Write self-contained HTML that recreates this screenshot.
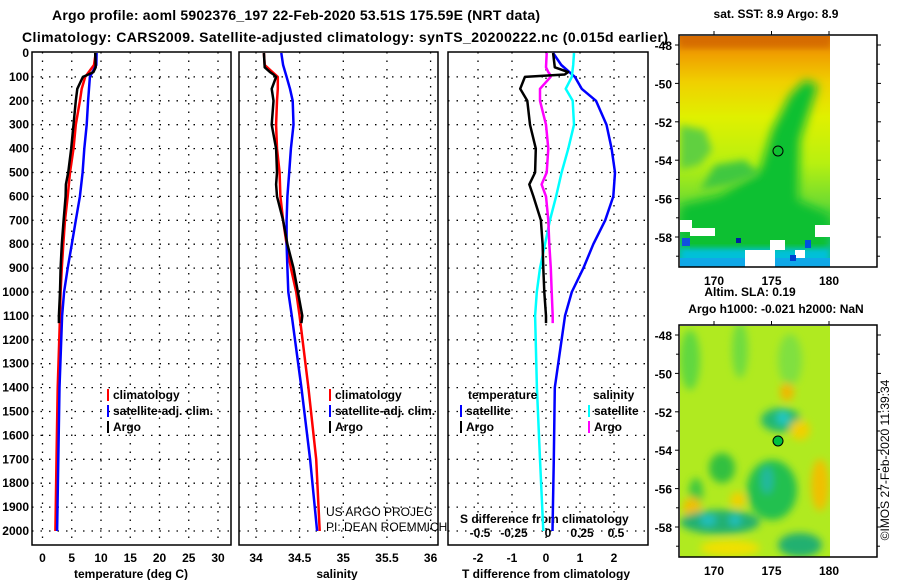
<!DOCTYPE html>
<html><head><meta charset="utf-8"><style>
body{margin:0;background:#fff}
svg{display:block;font-family:"Liberation Sans",sans-serif}
.b{font-weight:bold;font-size:12px}
</style></head><body>
<svg id="fig" width="900" height="580" viewBox="0 0 900 580" xmlns="http://www.w3.org/2000/svg">
<defs>
<filter id="bl" x="-20%" y="-20%" width="140%" height="140%"><feGaussianBlur stdDeviation="5"/></filter>
<filter id="bl4" x="-30%" y="-30%" width="160%" height="160%"><feGaussianBlur stdDeviation="4"/></filter>
<filter id="bl2" x="-20%" y="-20%" width="140%" height="140%"><feGaussianBlur stdDeviation="3"/></filter>
<linearGradient id="sstg" x1="0" y1="0" x2="0" y2="1">
<stop offset="0" stop-color="#d87000"/><stop offset="0.08" stop-color="#f0a000"/><stop offset="0.2" stop-color="#f0d000"/><stop offset="0.35" stop-color="#e0f000"/><stop offset="0.55" stop-color="#b8f010"/><stop offset="0.72" stop-color="#70dc30"/><stop offset="0.84" stop-color="#20c840"/><stop offset="0.9" stop-color="#10c0a0"/><stop offset="1" stop-color="#10b8d8"/></linearGradient>
<clipPath id="c1"><rect x="680" y="36" width="150" height="231"/></clipPath>
<clipPath id="c2"><rect x="680" y="326" width="150" height="231"/></clipPath>
</defs>
<text x="296" y="20" text-anchor="middle" class="b" style="font-size:14px" textLength="488">Argo profile: aoml 5902376_197 22-Feb-2020 53.51S 175.59E (NRT data)</text>
<text x="345" y="42" text-anchor="middle" class="b" style="font-size:14px" textLength="646">Climatology: CARS2009. Satellite-adjusted climatology: synTS_20200222.nc (0.015d earlier)</text>
<g id="plots"></g>
<g>
<text x="776" y="18" text-anchor="middle" class="b">sat. SST: 8.9 Argo: 8.9</text>
<g clip-path="url(#c1)">
<rect x="680" y="36" width="150" height="231" fill="url(#sstg)"/>
<polygon points="772,130 790,95 805,80 818,85 800,140 798,200 830,215 830,267 680,267 680,205 720,195 760,170" fill="#10c030" filter="url(#bl)"/>
<polygon points="680,125 705,130 712,150 700,165 680,170" fill="#60d040" filter="url(#bl4)"/>
<polygon points="715,165 745,160 760,175 730,185 700,190" fill="#40c840" filter="url(#bl4)"/>
<rect x="680" y="36" width="150" height="12" fill="#d06000" opacity="0.6" filter="url(#bl2)"/>
<rect x="680" y="248" width="150" height="19" fill="#00c0d8" filter="url(#bl2)"/>
<rect x="680" y="258" width="150" height="9" fill="#10a8e8"/>
<rect x="680" y="220" width="12" height="12" fill="#fff"/><rect x="690" y="228" width="25" height="8" fill="#fff"/>
<rect x="745" y="250" width="30" height="17" fill="#fff"/><rect x="770" y="240" width="15" height="10" fill="#fff"/>
<rect x="795" y="250" width="10" height="8" fill="#fff"/><rect x="815" y="225" width="15" height="12" fill="#fff"/>
<rect x="682" y="238" width="8" height="8" fill="#1050e0"/><rect x="736" y="238" width="5" height="5" fill="#0020a0"/>
<rect x="790" y="255" width="6" height="6" fill="#0040d0"/><rect x="805" y="240" width="6" height="8" fill="#0050e0"/>
</g>
<circle cx="778" cy="151" r="5" fill="none" stroke="#000" stroke-width="1"/>
</g>
<g>
<text x="750" y="296" text-anchor="middle" class="b">Altim. SLA: 0.19</text>
<text x="776" y="313" text-anchor="middle" class="b">Argo h1000: -0.021 h2000: NaN</text>
<g clip-path="url(#c2)">
<rect x="680" y="326" width="150" height="231" fill="#b0ea20"/>
<g filter="url(#bl4)">
<ellipse cx="690" cy="360" rx="10" ry="30" fill="#60d840"/>
<ellipse cx="740" cy="350" rx="8" ry="28" fill="#70dc40"/>
<ellipse cx="790" cy="360" rx="12" ry="26" fill="#80e040"/>
<ellipse cx="781" cy="420" rx="20" ry="12" fill="#20b870"/>
<ellipse cx="783" cy="418" rx="6" ry="7" fill="#20c8c8"/>
<ellipse cx="787" cy="392" rx="7" ry="9" fill="#f0b800"/>
<ellipse cx="800" cy="430" rx="10" ry="10" fill="#f0d000"/>
<ellipse cx="820" cy="485" rx="9" ry="26" fill="#f0c000"/>
<ellipse cx="772" cy="490" rx="25" ry="30" fill="#20c050"/>
<ellipse cx="767" cy="480" rx="6" ry="14" fill="#20b8a0"/>
<ellipse cx="722" cy="468" rx="13" ry="15" fill="#30c040"/>
<ellipse cx="696" cy="492" rx="7" ry="14" fill="#40c840"/>
<ellipse cx="692" cy="508" rx="9" ry="11" fill="#f0c000"/>
<ellipse cx="738" cy="500" rx="8" ry="8" fill="#f0d000"/>
<ellipse cx="720" cy="522" rx="40" ry="12" fill="#20b070"/>
<ellipse cx="708" cy="520" rx="8" ry="6" fill="#20c0c0"/>
<ellipse cx="735" cy="520" rx="6" ry="6" fill="#20c0c0"/>
<ellipse cx="730" cy="548" rx="30" ry="8" fill="#f0e000"/>
<ellipse cx="800" cy="545" rx="22" ry="12" fill="#20b070"/>
</g>
</g>
<circle cx="778" cy="441" r="5" fill="#00c040" stroke="#000" stroke-width="1"/>
</g>
<text transform="translate(889,460) rotate(-90)" text-anchor="middle" style="font-size:12px">©IMOS 27-Feb-2020 11:39:34</text>
</svg>
<script>
// ---- data ----
const depths = [0,50,100,150,200,300,400,500,600,700,800,900,1000,1100,1400,1700,2000];
const tempClim = [9.1,8.8,7.3,6.7,6.4,5.7,5.3,4.7,4.3,3.85,3.55,3.3,3.1,3.0,2.6,2.4,2.2];
const tempSat  = [9.25,9.2,8.1,7.95,7.8,7.55,7.15,6.85,6.4,5.7,5.0,4.3,3.7,3.35,2.9,2.7,2.5];
const argoDepths = [0,60,80,90,100,150,200,300,400,500,550,600,700,800,900,1000,1100,1130];
const tempArgo = [9.0,9.1,8.7,7.85,6.9,5.95,5.7,5.3,4.9,4.4,4.0,3.95,3.6,3.3,3.1,3.0,2.8,2.8];
const salClim = [34.09,34.1,34.25,34.25,34.24,34.23,34.24,34.27,34.28,34.31,34.35,34.40,34.46,34.50,34.60,34.69,34.73];
const salSat  = [34.29,34.31,34.35,34.39,34.42,34.43,34.40,34.38,34.36,34.35,34.35,34.36,34.37,34.41,34.52,34.62,34.70];
const salArgo = [34.09,34.10,34.16,34.2,34.23,34.18,34.20,34.18,34.23,34.24,34.23,34.24,34.31,34.36,34.43,34.48,34.53,34.52];
const dTArgo = [0.21,0.26,0.65,0.55,-0.62,-0.76,-0.55,-0.47,-0.3,-0.32,-0.49,-0.37,-0.15,-0.1,-0.08,-0.05,0,0];
const dSArgo = [0.005,0.0,0.017,0.03,0.034,-0.044,-0.044,0.0,0.017,0.005,-0.032,0.0,0.017,0.024,0.035,0.042,0.049,0.049];
const dTSat = [0.21,0.45,0.85,1.05,1.47,1.78,1.93,2.03,1.98,1.74,1.39,1.1,0.76,0.56,0.26,0.23,0.19];
const dSSat = [0.206,0.2,0.19,0.145,0.196,0.206,0.164,0.115,0.074,0.029,-0.007,-0.044,-0.068,-0.08,-0.067,-0.044,-0.02];
const depthTicks = [0,100,200,300,400,500,600,700,800,900,1000,1100,1200,1300,1400,1500,1600,1700,1800,1900,2000];
const tempTicks = [0,5,10,15,20,25,30];
const salTicks = [34,34.5,35,35.5,36];
const dTTicks = [-2,-1,0,1,2];
const dSTicks = [-0.5,-0.25,0,0.25,0.5];
const latTicks = [-48,-50,-52,-54,-56,-58];
const lonTicks = [170,175,180];

const NS='http://www.w3.org/2000/svg';
const root=document.getElementById('plots');
const svg=document.getElementById('fig');
function el(t,a,p){const e=document.createElementNS(NS,t);for(const k in a)e.setAttribute(k,a[k]);(p||root).appendChild(e);return e;}
const yD=d=>53+d*0.239;
const xT=t=>42.5+t*5.85;
const xS=s=>256+(s-34)*87.3;
const xDT=v=>546+v*34;
const xDS=v=>546+v*136;
const panels=[[32,231],[239,438],[448,648]];
const TOP=52,BOT=545;

panels.forEach((p,i)=>{
  const r=el('rect',{x:p[0],y:TOP,width:p[1]-p[0],height:BOT-TOP,fill:'none',stroke:'#000','stroke-width':1.5});
  
  
  depthTicks.forEach(d=>{
    if(d===0)return;
    const g=el('line',{x1:p[0],x2:p[1],y1:yD(d),y2:yD(d),stroke:'#000','stroke-dasharray':'1.5,7','stroke-width':1.3});
    
    
  });
});
depthTicks.forEach(d=>{
  const t=el('text',{x:29,y:yD(d)+4,'text-anchor':'end',class:'b'});
  
  
  t.textContent=d;
});
function xaxis(ticks,fx,label,lx,name){
  ticks.forEach(v=>{
    const g=el('line',{x1:fx(v),x2:fx(v),y1:TOP,y2:BOT,stroke:'#000','stroke-dasharray':'1.5,7','stroke-width':1.3});
    
    
    const t=el('text',{x:fx(v),y:562,'text-anchor':'middle',class:'b'});
    
    
    t.textContent=v;
  });
  const t=el('text',{x:lx,y:578,'text-anchor':'middle',class:'b'});
  
  
  t.textContent=label;
}
xaxis(tempTicks,xT,'temperature (deg C)',131,'temperature');
xaxis(salTicks,xS,'salinity',337,'salinity');
xaxis(dTTicks,xDT,'T difference from climatology',546,'t-diff');
dSTicks.forEach(v=>{
  const t=el('text',{x:xDS(v)+2,y:537,'text-anchor':'middle',class:'b'});
  
  
  t.textContent=v;
});
{const t=el('text',{x:460,y:523,class:'b'});


t.textContent='S difference from climatology';}

function line(ds,vs,fx,color,name){
  const pts=ds.map((d,i)=>fx(vs[i]).toFixed(1)+','+yD(d).toFixed(1)).join(' ');
  const l=el('polyline',{points:pts,fill:'none',stroke:color,'stroke-width':2.5,'stroke-linejoin':'round'});
  
  
}
line(depths,tempClim,xT,'#ff0000','temp-climatology-line');
line(depths,tempSat,xT,'#0000ff','temp-satellite-line');
line(argoDepths,tempArgo,xT,'#000','temp-argo-line');
line(depths,salClim,xS,'#ff0000','sal-climatology-line');
line(depths,salSat,xS,'#0000ff','sal-satellite-line');
line(argoDepths,salArgo,xS,'#000','sal-argo-line');
line(depths,dTSat,xDT,'#0000ff','tdiff-satellite-line');
line(depths,dSSat,xDS,'#00ffff','sdiff-satellite-line');
line(argoDepths,dSArgo,xDS,'#ff00ff','sdiff-argo-line');
line(argoDepths,dTArgo,xDT,'#000','tdiff-argo-line');

function legend(x,y,color,label,name){
  const b=el('line',{x1:x,x2:x,y1:y-6,y2:y+6,stroke:color,'stroke-width':2});
  
  
  const t=el('text',{x:x+5,y:y+4,class:'b'});
  
  
  t.textContent=label;
}
legend(108,395,'#ff0000','climatology','legend-temp-climatology');
legend(108,411,'#0000ff','satellite-adj. clim.','legend-temp-satellite');
legend(108,427,'#000','Argo','legend-temp-argo');
legend(330,395,'#ff0000','climatology','legend-sal-climatology');
legend(330,411,'#0000ff','satellite-adj. clim.','legend-sal-satellite');
legend(330,427,'#000','Argo','legend-sal-argo');
legend(461,411,'#0000ff','satellite','legend-tdiff-satellite');
legend(461,427,'#000','Argo','legend-tdiff-argo');
legend(589,411,'#00ffff','satellite','legend-sdiff-satellite');
legend(589,427,'#ff00ff','Argo','legend-sdiff-argo');
[['temperature',468,'legend-temperature-heading'],['salinity',593,'legend-salinity-heading']].forEach(h=>{
  const t=el('text',{x:h[1],y:399,class:'b'});
  
  
  t.textContent=h[0];
});
[['US ARGO PROJEC',516],['PI: DEAN ROEMMICH',531]].forEach((c,i)=>{
  const t=el('text',{x:326,y:c[1],style:'font-size:12px'});
  
  
  t.textContent=c[0];
});

const lonX=l=>714+(l-170)*11.5;
[[35,267],[325,557]].forEach((m,i)=>{
  const latY=la=>m[0]+10+(-48-la)*19.2;
  const f=el('rect',{x:679,y:m[0],width:198,height:m[1]-m[0],fill:'none',stroke:'#000','stroke-width':1.5},svg);
  
  
  latTicks.forEach(la=>{
    const y=latY(la);
    el('line',{x1:675,x2:679,y1:y,y2:y,stroke:'#000'},svg);
    el('line',{x1:877,x2:881,y1:y,y2:y,stroke:'#000'},svg);
    const t=el('text',{x:672,y:y+5,'text-anchor':'end',class:'b'},svg);
    
    
    t.textContent=la;
  });
  [-49,-51,-53,-55,-57,-59].forEach(la=>{
    const y=latY(la);
    el('line',{x1:676,x2:679,y1:y,y2:y,stroke:'#000'},svg);
    el('line',{x1:877,x2:880,y1:y,y2:y,stroke:'#000'},svg);
  });
  lonTicks.forEach(lo=>{
    const x=lonX(lo);
    el('line',{x1:x,x2:x,y1:m[0]-4,y2:m[0],stroke:'#000'},svg);
    const t=el('text',{x:x,y:m[1]+18,'text-anchor':'middle',class:'b'},svg);
    
    
    t.textContent=lo;
  });
});
</script>
</body></html>
